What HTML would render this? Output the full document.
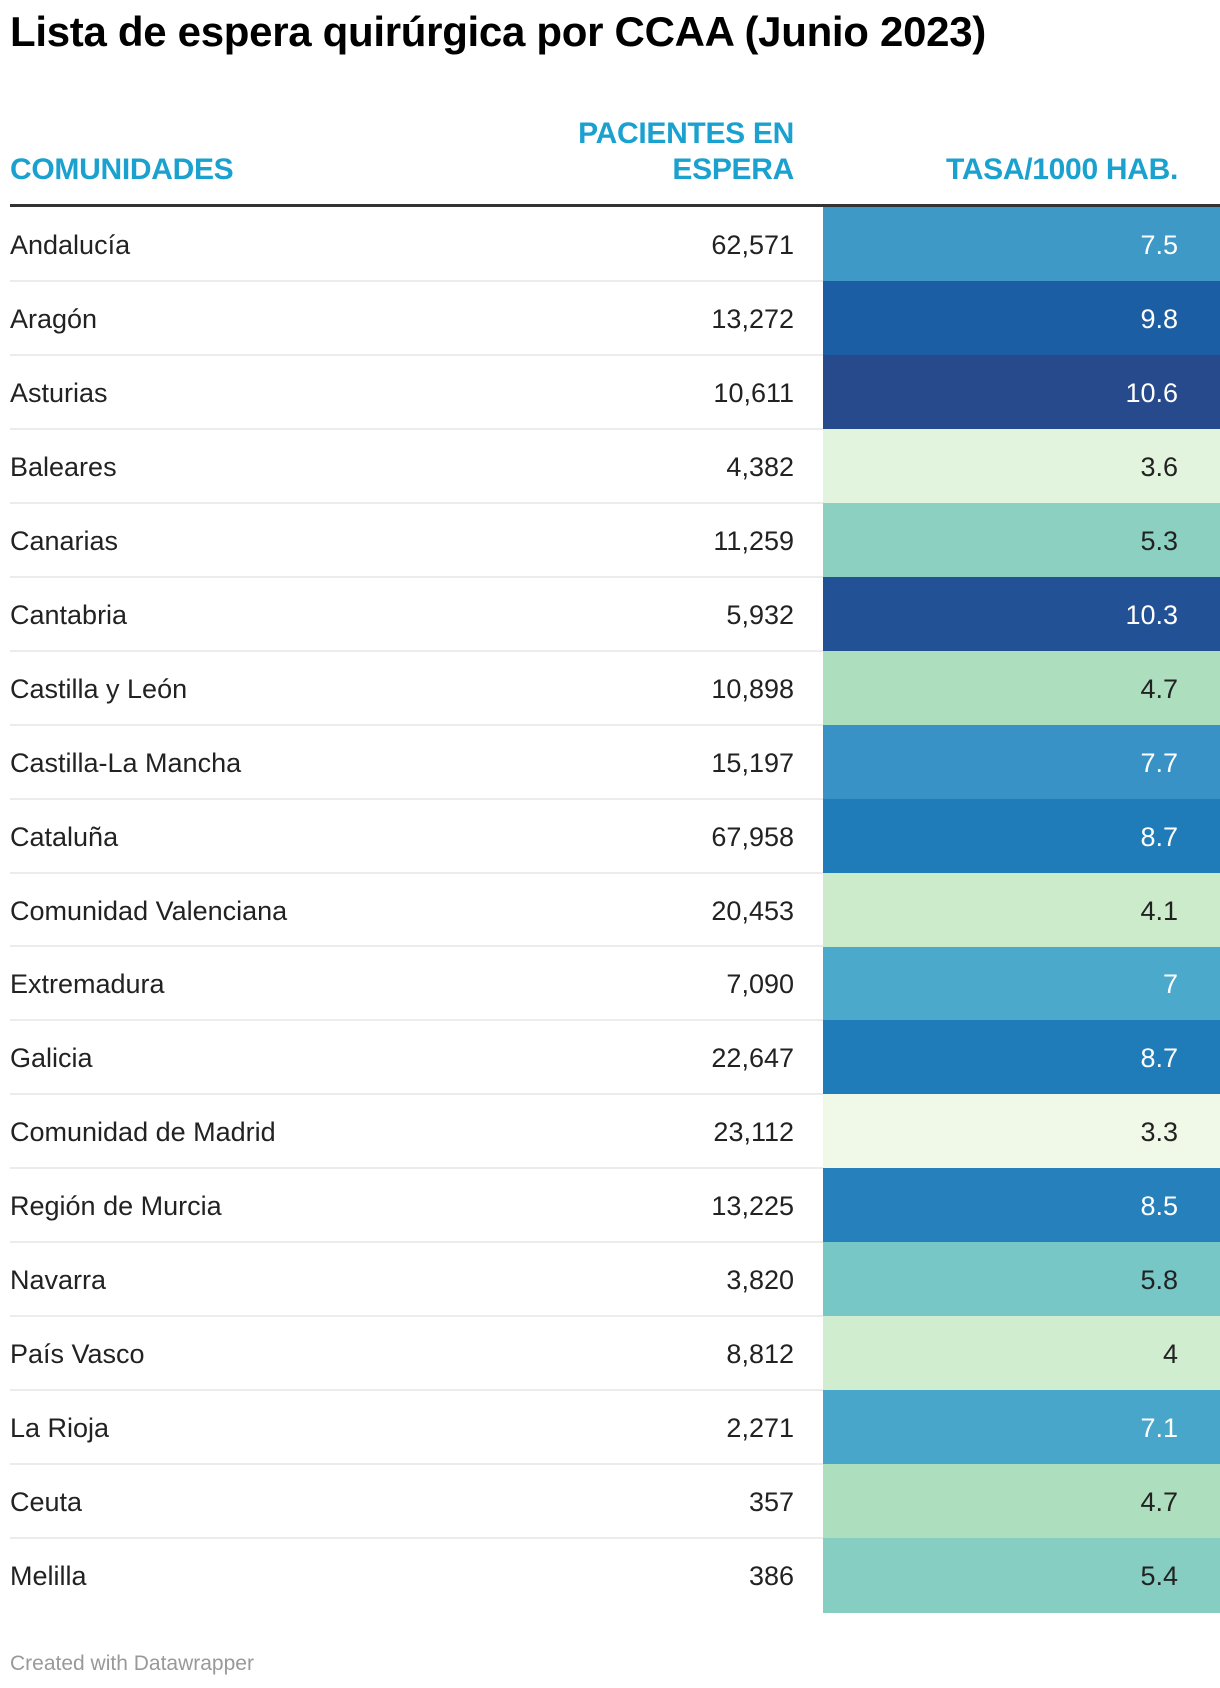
<!DOCTYPE html>
<html><head><meta charset="utf-8"><style>
body{margin:0;background:#fff;font-family:"Liberation Sans",Arial,sans-serif;color:#222;}
#wrap{position:relative;width:1220px;height:1688px;overflow:hidden;}
.title{position:absolute;left:10px;top:8px;font-size:42px;font-weight:bold;color:#000;letter-spacing:-0.3px;white-space:nowrap;}
.hd{position:absolute;color:#1ba1cf;font-weight:bold;font-size:30px;line-height:36px;letter-spacing:-0.3px;white-space:nowrap;}
.rule{position:absolute;left:10px;top:204px;width:1210px;height:3px;background:#333;}
.row{position:absolute;left:10px;width:1210px;}
.name{position:absolute;left:0;font-size:27px;}
.num{position:absolute;right:426px;font-size:27px;text-align:right;}
.cell{position:absolute;left:813px;width:397px;}
.val{position:absolute;right:42px;font-size:27px;}
.sep{position:absolute;left:0;width:813px;height:2px;background:#ececec;}
.foot{position:absolute;left:10px;top:1652px;font-size:21px;color:#999;}
</style></head><body>
<div id="wrap">
<div class="title">Lista de espera quirúrgica por CCAA (Junio 2023)</div>
<div class="hd" style="left:10px;top:152px">COMUNIDADES</div>
<div class="hd" style="right:426px;top:116px;text-align:right">PACIENTES EN<br>ESPERA</div>
<div class="hd" style="right:42px;top:152px">TASA/1000 HAB.</div>
<div class="rule"></div>
<div id="rows"></div>
<div class="foot">Created with Datawrapper</div>
</div>
<script>
const names=["Andalucía","Aragón","Asturias","Baleares","Canarias","Cantabria","Castilla y León","Castilla-La Mancha","Cataluña","Comunidad Valenciana","Extremadura","Galicia","Comunidad de Madrid","Región de Murcia","Navarra","País Vasco","La Rioja","Ceuta","Melilla"];
const pacientes=[62571,13272,10611,4382,11259,5932,10898,15197,67958,20453,7090,22647,23112,13225,3820,8812,2271,357,386];
const tasa=[7.5,9.8,10.6,3.6,5.3,10.3,4.7,7.7,8.7,4.1,7,8.7,3.3,8.5,5.8,4,7.1,4.7,5.4];
const stops=[[3.3,[240,249,232]],[4.1,[204,235,203]],[4.7,[173,222,190]],[5.4,[134,206,194]],[6,[112,196,200]],[7,[75,169,204]],[7.7,[57,146,197]],[8.7,[32,124,184]],[9.8,[28,94,163]],[10.6,[38,74,140]]];
function color(v){
  for(let i=0;i<stops.length-1;i++){const a=stops[i],b=stops[i+1];
    if(v<=b[0]){const t=Math.max(0,(v-a[0])/(b[0]-a[0]));return 'rgb('+a[1].map((c,k)=>Math.round(c+(b[1][k]-c)*t)).join(',')+')';}}
  return 'rgb('+stops[stops.length-1][1].join(',')+')';
}
const top0=207,rh=73.95;
const host=document.getElementById('rows');
names.forEach((n,i)=>{
  const r=document.createElement('div');r.className='row';
  
  
  r.style.top=(top0+i*rh)+'px';r.style.height=rh+'px';
  const ty=(rh/2-14)+'px';
  const c=document.createElement('div');c.className='cell';c.style.top='0';c.style.height=(rh+0.5)+'px';c.style.background=color(tasa[i]);
  
  
  const v=document.createElement('div');v.className='val';v.style.top=ty;v.textContent=String(tasa[i]);v.style.color=tasa[i]>=6.5?'#fff':'#222';
  
  
  c.appendChild(v);r.appendChild(c);
  const nm=document.createElement('div');nm.className='name';nm.style.top=ty;nm.textContent=n;
  
  
  r.appendChild(nm);
  const p=document.createElement('div');p.className='num';p.style.top=ty;p.textContent=pacientes[i].toLocaleString('en-US');
  
  
  r.appendChild(p);
  if(i<names.length-1){const s=document.createElement('div');s.className='sep';s.style.top=(rh-1)+'px';
  
  
  r.appendChild(s);}
  host.appendChild(r);
});
</script>
</body></html>
